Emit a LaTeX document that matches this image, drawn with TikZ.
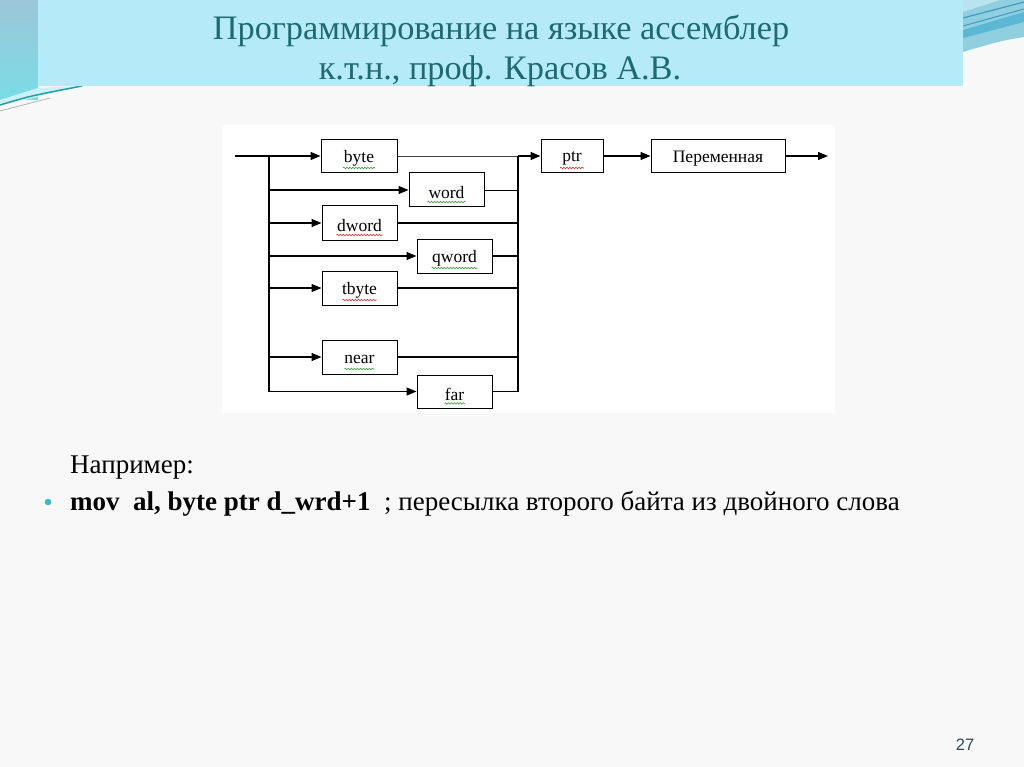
\documentclass[tikz,border=0pt]{standalone}
\usepackage{fontspec}
\setmainfont{Liberation Serif}
\newfontfamily\numfont{Liberation Sans}
\usetikzlibrary{arrows.meta,decorations.pathmorphing}
\definecolor{slidebg}{HTML}{F8F8F8}
\definecolor{titlebg}{HTML}{B5EAF8}
\definecolor{titletxt}{HTML}{1E6A70}
\definecolor{stripTop}{HTML}{9CC6D9}
\definecolor{stripBot}{HTML}{7ADCE6}
\definecolor{swoosh}{HTML}{2A9E9C}
\definecolor{bullet}{HTML}{3BB9CA}
\definecolor{pagenum}{HTML}{2E4A58}
\definecolor{wavegreen}{HTML}{3A9A3A}
\definecolor{wavered}{HTML}{D03030}
\definecolor{decoA}{HTML}{8FCFE0}
\definecolor{decoB}{HTML}{5BB7D4}
\definecolor{decoC}{HTML}{3E9CC0}
\definecolor{decoD}{HTML}{B9E3EE}
\tikzset{
  box/.style={draw=black, line width=1pt, fill=white, inner sep=0pt,
    minimum width=75pt, minimum height=34pt, font=\fontsize{17.5}{17.5}\selectfont},
  conn/.style={line width=1.3pt, draw=black},
  arr/.style={conn, -{Triangle[length=10pt,width=8pt]}},
  wave/.style={line width=0.6pt, decorate,
    decoration={snake, amplitude=0.8pt, segment length=3pt}},
}
\newcommand{\lowtxt}[1]{\raisebox{-2.5pt}[\height][\depth]{#1}}
\begin{document}
\begin{tikzpicture}[x=1pt,y=-1pt]
\useasboundingbox (0,0) rectangle (1024,767);
% slide background
\fill[slidebg] (0,0) rectangle (1024,767);
% left decoration
\shade[top color=stripTop, bottom color=stripBot] (0,0) rectangle (38,100);
\fill[titlebg!70!white] (0,100) -- (38,88) -- (82,86) -- (0,106) -- cycle;
\draw[swoosh, line width=1.5pt] (0,105) .. controls (30,96) .. (82,86);
\draw[gray!60, line width=0.8pt] (0,111) .. controls (25,104) .. (50,98);
% right decoration
\fill[decoA] (963,0) -- (1024,0) -- (1024,37) .. controls (1000,41) .. (963,52) -- cycle;
\fill[decoB] (963,30) -- (1024,12) -- (1024,22) -- (963,38) -- cycle;
\draw[decoC, line width=1.2pt] (963,18) -- (1024,2);
\draw[decoC, line width=1pt] (963,26) -- (1024,9);
\fill[decoD] (963,0) -- (1000,0) -- (963,12) -- cycle;
% title band
\fill[titlebg] (38,0) rectangle (963,86);
\node[anchor=base, text=titletxt, font=\fontsize{34.3}{34.3}\selectfont, inner sep=0pt] (t1) at (501,40) {Программирование на языке ассемблер};
\node[anchor=base, text=titletxt, font=\fontsize{34.3}{34.3}\selectfont, inner sep=0pt] (t2) at (500,80) {к.т.н., проф. Красов А.В.};
% diagram area
\fill[white] (222,125) rectangle (835,413);
% boxes
\node[box, minimum width=76pt, minimum height=33pt] (byte) at (359,156) {\lowtxt{byte}};
\node[box] (word) at (446.5,190) {\lowtxt{word}};
\node[box] (dword) at (359.5,223) {\lowtxt{dword}};
\node[box] (qword) at (454.5,256) {\lowtxt{qword}};
\node[box] (tbyte) at (359.5,288) {\lowtxt{tbyte}};
\node[box] (near) at (359.5,357) {\lowtxt{near}};
\node[box, minimum height=33pt] (far) at (454.5,391.5) {\lowtxt{far}};
\node[box, minimum width=62pt, minimum height=33pt] (ptr) at (572,156) {\lowtxt{ptr}};
\node[box, minimum width=134pt, minimum height=33pt] (var) at (718,156) {\lowtxt{Переменная}};
% spell-check squiggles
\draw[wave, wavegreen] ([xshift=-16pt,yshift=-12pt]byte.center) -- ([xshift=16pt,yshift=-12pt]byte.center);
\draw[wave, wavegreen] ([xshift=-19pt,yshift=-12pt]word.center) -- ([xshift=19pt,yshift=-12pt]word.center);
\draw[wave, wavered] ([xshift=-23pt,yshift=-12pt]dword.center) -- ([xshift=23pt,yshift=-12pt]dword.center);
\draw[wave, wavegreen] ([xshift=-23pt,yshift=-12pt]qword.center) -- ([xshift=23pt,yshift=-12pt]qword.center);
\draw[wave, wavered] ([xshift=-17pt,yshift=-12pt]tbyte.center) -- ([xshift=17pt,yshift=-12pt]tbyte.center);
\draw[wave, wavegreen] ([xshift=-15pt,yshift=-12pt]near.center) -- ([xshift=15pt,yshift=-12pt]near.center);
\draw[wave, wavegreen] ([xshift=-10pt,yshift=-12pt]far.center) -- ([xshift=10pt,yshift=-12pt]far.center);
\draw[wave, wavered] ([xshift=-12pt,yshift=-12pt]ptr.center) -- ([xshift=12pt,yshift=-12pt]ptr.center);
% coordinates
\coordinate (in) at (235,156);
\coordinate (lb) at (269,156);
\coordinate (lbend) at (269,392);
\coordinate (rb) at (518,156);
\coordinate (rbend) at (518,392);
\coordinate (out) at (828,156);
% left bus and entries
\draw[arr] (in) -- (byte.west);
\draw[conn] (lb) -- (lbend);
\draw[arr] (lb |- word.west) -- (word.west);
\draw[arr] (lb |- dword.west) -- (dword.west);
\draw[arr] (lb |- qword.west) -- (qword.west);
\draw[arr] (lb |- tbyte.west) -- (tbyte.west);
\draw[arr] (lb |- near.west) -- (near.west);
\draw[arr] (lb |- far.west) -- (far.west);
% right bus and exits
\draw[conn, draw=black!75, line width=0.9pt] (byte.east) -- (rb);
\draw[conn, line width=0.9pt] (word.east) -- (rb |- word.east);
\draw[conn] (dword.east) -- (rb |- dword.east);
\draw[conn] (qword.east) -- (rb |- qword.east);
\draw[conn] (tbyte.east) -- ([xshift=1pt]rb |- tbyte.east);
\draw[conn] (near.east) -- (rb |- near.east);
\draw[conn] (far.east) -- (rb |- far.east);
\draw[conn] (rb) -- (rbend);
\draw[arr] (rb) -- (ptr.west);
\draw[arr] (ptr.east) -- (var.west);
\draw[arr] (var.east) -- (out);
% text below
\node[anchor=base west, font=\fontsize{27}{27}\selectfont, inner sep=0pt] (ex) at (70,473) {Например:};
\fill[bullet] (48,502) circle (3.3pt);
\node[anchor=base west, font=\fontsize{27}{27}\selectfont, inner sep=0pt] (code) at (70,510) {\textbf{mov\ \ al, byte ptr d\_wrd+1}\ \ ; пересылка второго байта из двойного слова};
% page number
\node[font=\numfont\fontsize{16.5}{16.5}\selectfont, text=pagenum] (pg) at (965,745) {27};
\end{tikzpicture}
\end{document}
